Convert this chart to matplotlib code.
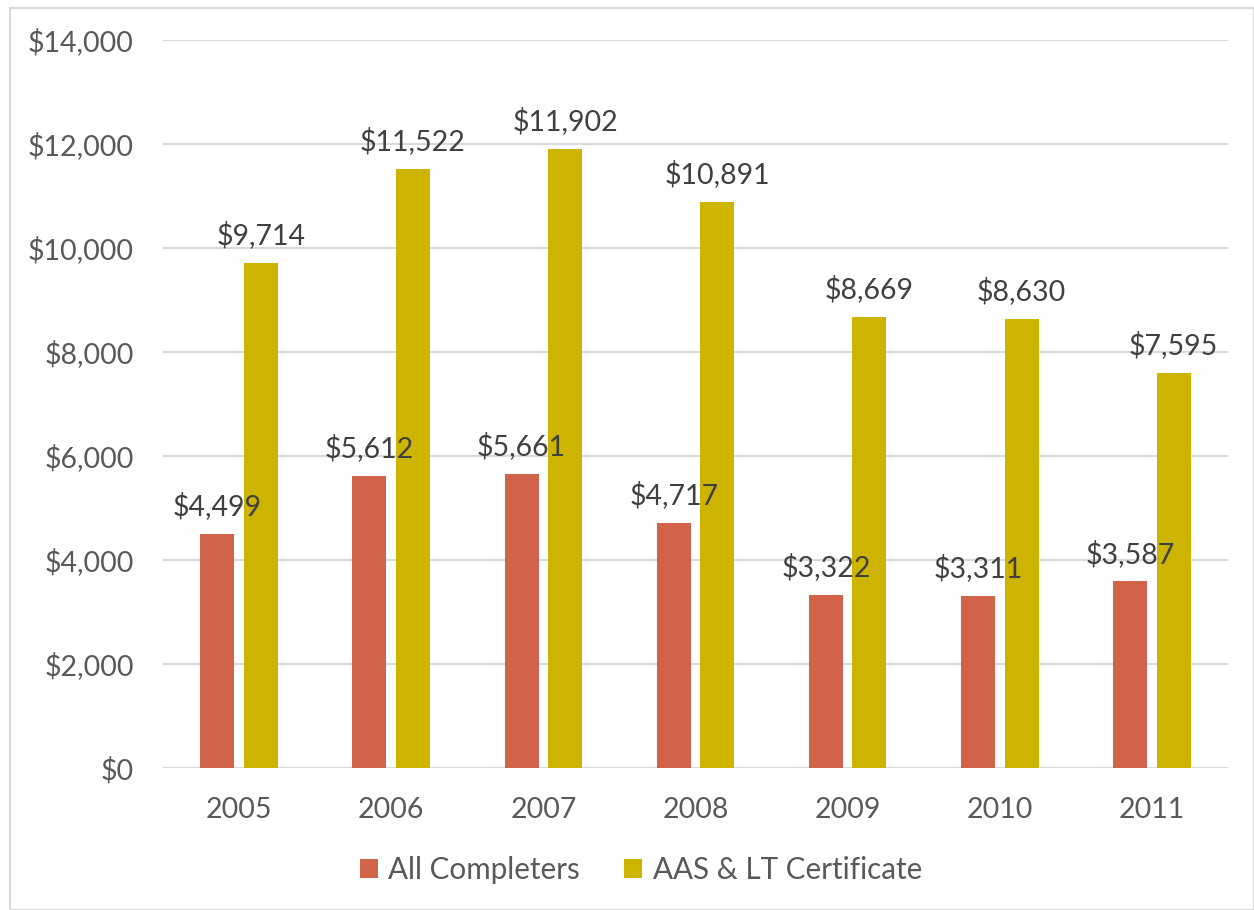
import matplotlib.pyplot as plt
import numpy as np
from matplotlib.patches import Rectangle

years = ['2005', '2006', '2007', '2008', '2009', '2010', '2011']
all_completers = [4499, 5612, 5661, 4717, 3322, 3311, 3587]
aas_lt = [9714, 11522, 11902, 10891, 8669, 8630, 7595]

red = '#D2634B'
gold = '#CDB400'
txt = '#595959'

plt.rcParams['font.family'] = ['Lato', 'DejaVu Sans']

fig = plt.figure(figsize=(12.54, 9.10), dpi=100)
ax = fig.add_axes([163/1254, 1 - 768/910, (1228-163)/1254, (768-40)/910])

x = np.arange(len(years))
w = 0.224
off = 0.143
b1 = ax.bar(x - off, all_completers, w, color=red, label='All Completers', zorder=3)
b2 = ax.bar(x + off, aas_lt, w, color=gold, label='AAS & LT Certificate', zorder=3)

for bars, vals in ((b1, all_completers), (b2, aas_lt)):
    for b, v in zip(bars, vals):
        ax.annotate('${:,}'.format(v), (b.get_x() + b.get_width()/2, v),
                    xytext=(0, 10), textcoords='offset points',
                    ha='center', va='bottom', fontsize=20.5, color='#404040')

ax.set_xlim(-0.5, len(years) - 0.5)
ax.set_ylim(0, 14000)
ax.set_yticks(np.arange(0, 14001, 2000))
ax.set_yticklabels(['${:,}'.format(v) for v in range(0, 14001, 2000)])
ax.set_xticks(x)
ax.set_xticklabels(years)
ax.tick_params(axis='both', length=0, labelsize=20.5, labelcolor=txt)
ax.tick_params(axis='y', pad=21)
ax.tick_params(axis='x', pad=21)
ax.grid(axis='y', color='#D9D9D9', linewidth=1.5, zorder=0)
for s in ax.spines.values():
    s.set_visible(False)

fig.legend(handles=[b1, b2], loc='center', bbox_to_anchor=(641/1254, 1 - 870/910),
           ncol=2, frameon=False, fontsize=21.3, labelcolor=txt,
           handlelength=0.6, handleheight=0.6, handletextpad=0.35, columnspacing=1.5)

fig.patches.append(Rectangle((10/1254, 0), 1 - 10/1254, 1 - 8/910, transform=fig.transFigure,
                             fill=False, edgecolor='#D9D9D9', linewidth=1.5))

fig.savefig('out.png', dpi=100)
